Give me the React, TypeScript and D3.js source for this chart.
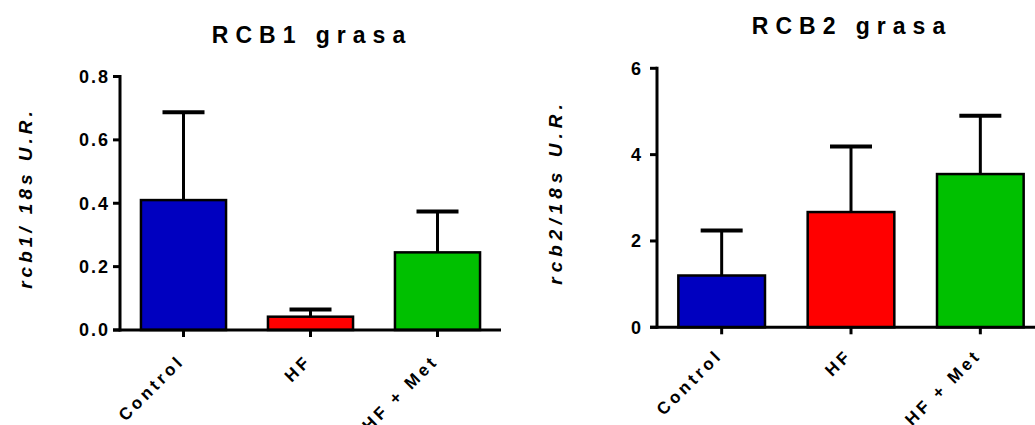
import React from "react";
import * as d3 from "d3";

const categories = ["Control", "HF", "HF + Met"];
const colors = ["#0000C0", "#FF0000", "#00C000"];

const rcb1Means = [0.41, 0.042, 0.245];
const rcb1Sem = [0.277, 0.023, 0.129];
const rcb1Ticks = [0, 0.2, 0.4, 0.6, 0.8];

const rcb2Means = [1.2, 2.67, 3.55];
const rcb2Sem = [1.04, 1.52, 1.35];
const rcb2Ticks = [0, 2, 4, 6];

const FONT = "'Liberation Sans', Arial, Helvetica, sans-serif";

type PanelProps = {
  title: string;
  yLabel: string;
  means: number[];
  sem: number[];
  ticks: number[];
  tickFmt: (v: number) => string;
  yDomain: [number, number];
  yRange: [number, number];
  xRange: [number, number];
  xAxisEnd: number;
  titleX: number;
  titleY: number;
  yLabelX: number;
  yLabelY: number;
  yLabelLs: number;
  tickLabelGap: number;
  xLabelDy: number;
};

function Panel(p: PanelProps) {
  const y = d3.scaleLinear().domain(p.yDomain).range(p.yRange);
  const x = d3
    .scaleBand<string>()
    .domain(categories)
    .range(p.xRange)
    .paddingInner(0.33)
    .paddingOuter(0.165);
  const axisX = p.xRange[0];
  const y0 = y(0);
  const bw = x.bandwidth();
  const capHalf = 21;
  return (
    <g>
      <text
        x={p.titleX}
        y={p.titleY}
        textAnchor="middle"
        fontFamily={FONT}
        fontWeight="bold"
        fontSize={23}
        letterSpacing={7}
        fill="#000"
      >
        {p.title}
      </text>
      <text
        transform={`translate(${p.yLabelX},${p.yLabelY}) rotate(-90)`}
        textAnchor="middle"
        fontFamily={FONT}
        fontWeight="bold"
        fontStyle="italic"
        fontSize={19}
        letterSpacing={p.yLabelLs}
        fill="#000"
      >
        {p.yLabel}
      </text>
      {categories.map((c, i) => {
        const cx = (x(c) as number) + bw / 2;
        const top = y(p.means[i]);
        const capY = y(p.means[i] + p.sem[i]);
        return (
          <g key={c}>
            <line x1={cx} x2={cx} y1={top} y2={capY} stroke="#000" strokeWidth={3} />
            <line x1={cx - capHalf} x2={cx + capHalf} y1={capY} y2={capY} stroke="#000" strokeWidth={4} />
            <rect
              x={x(c)}
              y={top}
              width={bw}
              height={y0 - top}
              fill={colors[i]}
              stroke="#000"
              strokeWidth={2.5}
            />
          </g>
        );
      })}
      {/* y axis */}
      <line x1={axisX} x2={axisX} y1={y(p.yDomain[1]) - 1.5} y2={y0 + 1.5} stroke="#000" strokeWidth={3} />
      {p.ticks.map((t) => (
        <g key={t}>
          <line x1={axisX - 7} x2={axisX} y1={y(t)} y2={y(t)} stroke="#000" strokeWidth={3} />
          <text
            x={axisX - p.tickLabelGap}
            y={y(t)}
            dy="0.36em"
            textAnchor="end"
            fontFamily={FONT}
            fontWeight="bold"
            fontSize={18}
            letterSpacing={2}
            fill="#000"
          >
            {p.tickFmt(t)}
          </text>
        </g>
      ))}
      {/* x axis */}
      <line x1={axisX - 7} x2={p.xAxisEnd} y1={y0} y2={y0} stroke="#000" strokeWidth={3} />
      {categories.map((c) => {
        const cx = (x(c) as number) + bw / 2;
        return (
          <g key={c}>
            <line x1={cx} x2={cx} y1={y0} y2={y0 + 7} stroke="#000" strokeWidth={3} />
            <text
              transform={`translate(${cx + 2},${y0 + p.xLabelDy}) rotate(-45)`}
              textAnchor="end"
              fontFamily={FONT}
              fontWeight="bold"
              fontSize={17}
              letterSpacing={3.5}
              fill="#000"
            >
              {c}
            </text>
          </g>
        );
      })}
    </g>
  );
}

export default function App() {
  return (
    <svg
      width={1035}
      height={425}
      style={{ position: "absolute", left: 0, top: 0, background: "#fff" }}
    >
      <rect width={1035} height={425} fill="#fff" />
      <Panel
        title="RCB1 grasa"
        yLabel="rcb1/ 18s U.R."
        means={rcb1Means}
        sem={rcb1Sem}
        ticks={rcb1Ticks}
        tickFmt={(v) => v.toFixed(1)}
        yDomain={[0, 0.8]}
        yRange={[330, 76.5]}
        xRange={[120, 501]}
        xAxisEnd={501}
        titleX={312}
        titleY={43}
        yLabelX={32}
        yLabelY={198}
        yLabelLs={4}
        tickLabelGap={10}
        xLabelDy={32}
      />
      <Panel
        title="RCB2 grasa"
        yLabel="rcb2/18s U.R."
        means={rcb2Means}
        sem={rcb2Sem}
        ticks={rcb2Ticks}
        tickFmt={(v) => String(v)}
        yDomain={[0, 6]}
        yRange={[327.3, 68.3]}
        xRange={[657, 1045]}
        xAxisEnd={1040}
        titleX={852}
        titleY={34}
        yLabelX={562}
        yLabelY={192}
        yLabelLs={5}
        tickLabelGap={14}
        xLabelDy={29}
      />
    </svg>
  );
}
